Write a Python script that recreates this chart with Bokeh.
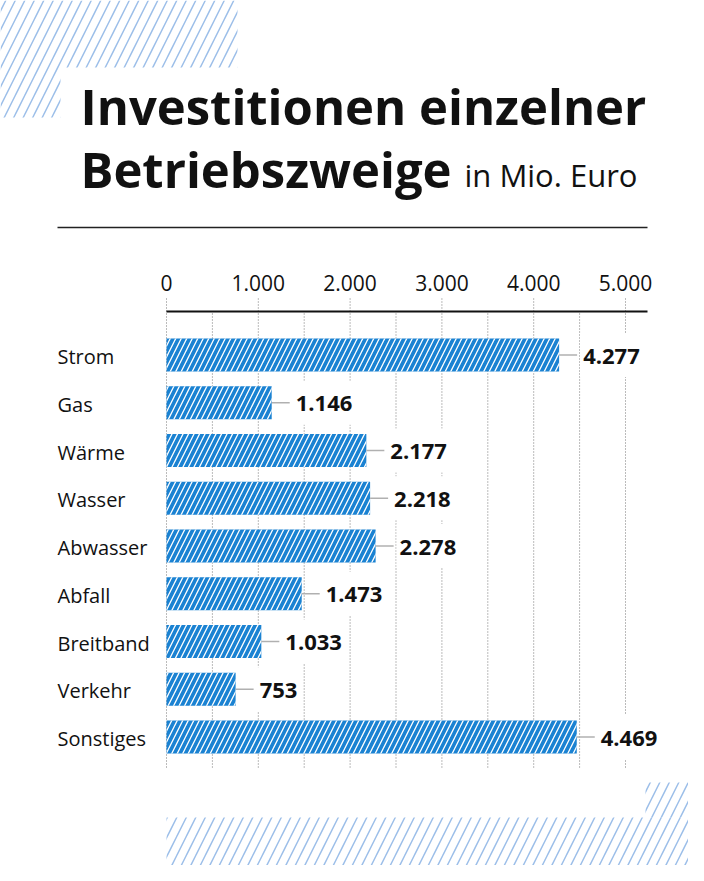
from bokeh.plotting import figure
from bokeh.models import Range1d, ColumnDataSource
from bokeh.core.properties import value
from bokeh.embed import file_html
from bokeh.resources import INLINE

# ---------------- data ----------------
categories = ["Strom", "Gas", "Wärme", "Wasser", "Abwasser", "Abfall",
              "Breitband", "Verkehr", "Sonstiges"]
values = [4277, 1146, 2177, 2218, 2278, 1473, 1033, 753, 4469]
value_labels = ["4.277", "1.146", "2.177", "2.218", "2.278", "1.473",
                "1.033", "753", "4.469"]
tick_values = [0, 1000, 2000, 3000, 4000, 5000]
tick_labels = ["0", "1.000", "2.000", "3.000", "4.000", "5.000"]
grid_values = [0, 500, 1000, 1500, 2000, 2500, 3000, 3500, 4000, 4500, 5000]
title_line1 = "Investitionen einzelner"
title_line2 = "Betriebszweige"
subtitle = "in Mio. Euro"

# ---------------- layout helpers ----------------
W, H = 688, 865
X0 = 166.0               # pixel of value 0
PXU = 459.0 / 5000.0     # pixels per unit
ROW0 = 354.5             # pixel centre of first row
ROWH = 47.75             # row pitch in pixels
BAR_H = 33.0 / ROWH

FONT = value("Open Sans")
BAR_BLUE = "#1a82d2"
HATCH_BG = "#9dbfe9"
TXT = "#111111"


def xd(px):
    return (px - X0) / PXU


def yd(py):
    return (py - ROW0) / ROWH


p = figure(width=W, height=H,
           x_range=Range1d(xd(0), xd(W)),
           y_range=Range1d(yd(H), yd(0)),
           output_backend="svg", toolbar_location=None,
           min_border=0, outline_line_color=None,
           x_axis_type=None, y_axis_type=None,
           background_fill_color="white", border_fill_color="white")
p.grid.visible = False

# ---------------- decorative hatch areas ----------------
hatch_kw = dict(fill_alpha=0, line_color=None, hatch_pattern="/",
                hatch_color=HATCH_BG, hatch_scale=19, hatch_weight=1.5)
p.quad(left=[xd(0)], right=[xd(237)], top=[yd(0)], bottom=[yd(117)], **hatch_kw)
p.quad(left=[xd(60)], right=[xd(704)], top=[yd(67)], bottom=[yd(240)],
       fill_color="white", line_color=None)
p.quad(left=[xd(166)], right=[xd(704)], top=[yd(817)], bottom=[yd(881)], **hatch_kw)
p.quad(left=[xd(645)], right=[xd(704)], top=[yd(782)], bottom=[yd(817)], **hatch_kw)

# ---------------- title ----------------
p.text(x=[xd(80)], y=[yd(105)], text=[title_line1], text_font=FONT,
       text_font_style="bold", text_font_size="49px", text_baseline="alphabetic",
       text_color=TXT)
p.text(x=[xd(80)], y=[yd(168)], text=[title_line2], text_font=FONT,
       text_font_style="bold", text_font_size="49px", text_baseline="alphabetic",
       text_color=TXT)
p.text(x=[xd(464)], y=[yd(174)], text=[subtitle], text_font=FONT,
       text_font_size="31px", text_baseline="alphabetic", text_color=TXT)
p.segment(x0=[xd(57)], y0=[yd(227)], x1=[xd(647)], y1=[yd(227)],
          line_color="#222222", line_width=1.5)

# ---------------- grid & axis ----------------
grid_top = [yd(298) if g % 1000 == 0 else yd(313) for g in grid_values]
p.segment(x0=grid_values, y0=grid_top, x1=grid_values,
          y1=[yd(768)] * len(grid_values),
          line_color="#777777", line_width=1, line_dash="1 2")
p.segment(x0=[0], y0=[yd(311)], x1=[xd(647)], y1=[yd(311)],
          line_color="#111111", line_width=2)
p.text(x=tick_values, y=[yd(282)] * len(tick_values), text=tick_labels,
       text_font=FONT, text_font_size="21px", text_align="center",
       text_baseline="alphabetic", text_color=TXT)

# ---------------- bars ----------------
idx = list(range(len(categories)))


def label_width(s):
    return sum(6.2 if ch == "." else 12.6 for ch in s)


bar_end_px = [X0 + v * PXU for v in values]
box_left = [xd(b + 21) for b in bar_end_px]
box_right = [xd(b + 24 + label_width(s) + 4) for b, s in zip(bar_end_px, value_labels)]
p.quad(left=box_left, right=box_right,
       top=[i - 22 / ROWH for i in idx], bottom=[i + 22 / ROWH for i in idx],
       fill_color="white", line_color=None)

src = ColumnDataSource(dict(y=idx, right=values, cat=categories, lab=value_labels,
                            lead_end=[v + 18 / PXU for v in values],
                            lab_x=[v + 24 / PXU for v in values],
                            lab_y=[i + 1.0 / ROWH for i in idx],
                            cat_y=[i + 1.5 / ROWH for i in idx]))

p.hbar(y="y", left=0, right="right", height=BAR_H, source=src,
       fill_color=BAR_BLUE, line_color=None,
       hatch_pattern="/", hatch_color="white", hatch_scale=11, hatch_weight=1.3)

p.segment(x0="right", y0="y", x1="lead_end", y1="y", source=src,
          line_color="#b0b0b0", line_width=1.5)

p.text(x="lab_x", y="lab_y", text="lab", source=src, text_font=FONT,
       text_font_style="bold", text_font_size="22px", text_baseline="alphabetic",
       text_color=TXT)

p.text(x=xd(57), y="cat_y", text="cat", source=src, text_font=FONT,
       text_font_size="20px", text_baseline="alphabetic", text_color=TXT)

open("out.html", "w").write(file_html(p, INLINE))
